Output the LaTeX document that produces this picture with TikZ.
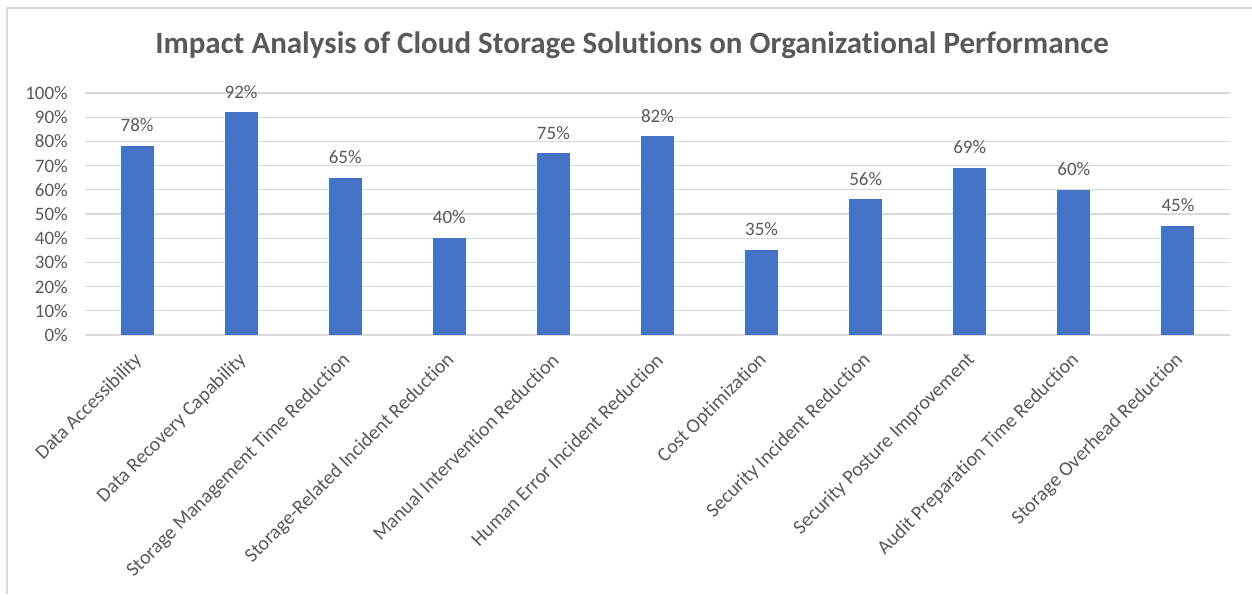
\documentclass[tikz,border=0pt]{standalone}
\usepackage{fontspec}
\setmainfont{Carlito}[Ligatures=NoCommon]
\definecolor{barblue}{HTML}{4472C4}
\definecolor{gridgray}{HTML}{D9D9D9}
\definecolor{txtgray}{HTML}{595959}
\begin{document}
\begin{tikzpicture}[x=1pt,y=-1pt,
  grid/.style={draw=gridgray,line width=1.2pt},
  barbox/.style={fill=barblue,draw=none,inner sep=0pt,minimum width=33pt},
  ticklab/.style={text=txtgray,font=\fontsize{19}{19}\selectfont,anchor=east,inner sep=0pt},
  vallab/.style={text=txtgray,font=\fontsize{19}{19}\selectfont,anchor=south,inner sep=0pt},
  catlab/.style={text=txtgray,font=\fontsize{20}{20}\selectfont,anchor=east,rotate=45,inner sep=0pt},
  titlelab/.style={text=txtgray,font=\bfseries\fontsize{31}{31}\selectfont,inner sep=0pt}]
\useasboundingbox (0,0) rectangle (1252,594);
\draw[draw=gridgray,line width=1.5pt] (7,594) -- (7,8) -- (1252,8);
\node[titlelab] (title) at (632,45) {Impact Analysis of Cloud Storage Solutions on Organizational Performance};
\foreach \k in {0,...,10}{
  \pgfmathsetmacro{\yy}{335-24.2*\k}
  \draw[grid] (85,\yy) -- (1230,\yy);
  \node[ticklab] (tick\k) at (68,\yy) {\the\numexpr\k*10\relax\%};
}
\foreach \v/\l [count=\i] in {78/Data Accessibility,92/Data Recovery Capability,65/Storage Management Time Reduction,40/Storage-Related Incident Reduction,75/Manual Intervention Reduction,82/Human Error Incident Reduction,35/Cost Optimization,56/Security Incident Reduction,69/Security Posture Improvement,60/Audit Preparation Time Reduction,45/Storage Overhead Reduction}{
  \pgfmathsetmacro{\cx}{85+104.09*(\i-0.5)}
  \pgfmathsetmacro{\top}{335-2.42*\v}
  \pgfmathsetmacro{\h}{2.42*\v}
  \node[barbox,minimum height=\h pt,anchor=south] (bar\i) at (\cx,335) {};
  \node[vallab] (val\i) at (\cx,\top-14) {\v\%};
  \node[catlab] (cat\i) at (\cx+2,357) {\l};
}
\end{tikzpicture}
\end{document}
